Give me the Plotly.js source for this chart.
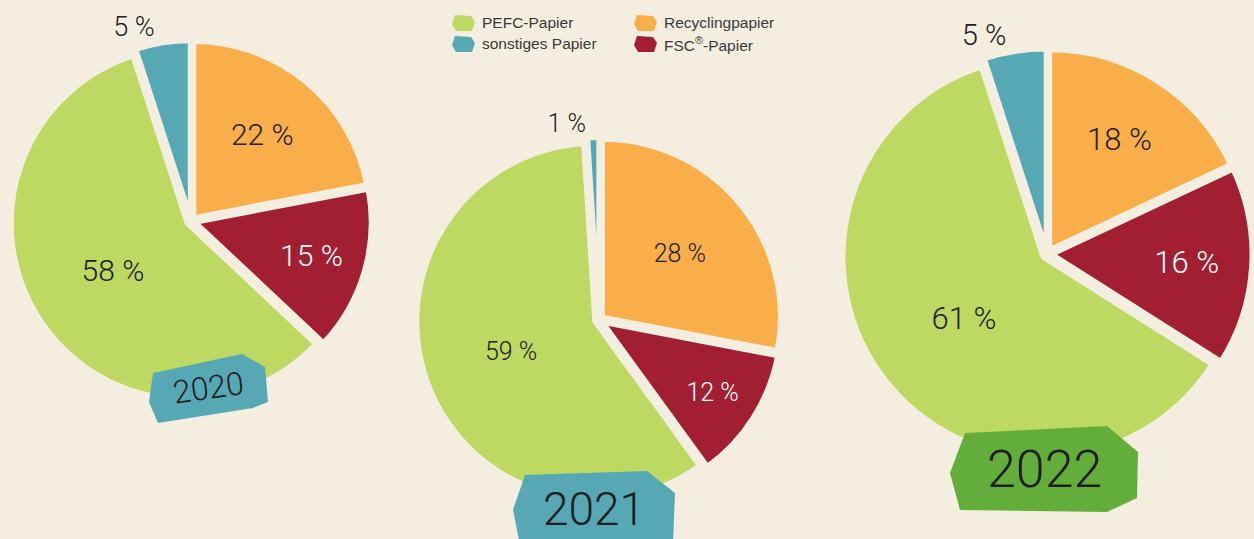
<!DOCTYPE html>
<html>
<head>
<meta charset="utf-8">
<script src="https://cdn.plot.ly/plotly-3.0.1.min.js"></script>
<style>
  html, body { margin: 0; padding: 0; background: #f4eee1; }
  #chart { width: 1254px; height: 539px; }
</style>
</head>
<body>
<div id="chart"></div>
<script>
// ---- data ----
const categories = ["Recyclingpapier", "FSC®-Papier", "PEFC-Papier", "sonstiges Papier"];
const years = ["2020", "2021", "2022"];
const values2020 = [22, 15, 58, 5];
const values2021 = [28, 12, 59, 1];
const values2022 = [18, 16, 61, 5];
const legendOrder = ["PEFC-Papier", "Recyclingpapier", "sonstiges Papier", "FSC®-Papier"];

// ---- styles ----
const W = 1254, H = 539;
const BG = "#f4eee1";
const colorOf = {
  "Recyclingpapier": "#f9ae4a",
  "FSC®-Papier": "#a11f31",
  "PEFC-Papier": "#bdd962",
  "sonstiges Papier": "#57a8b5"
};
const NUM_FONT = "Roboto, DejaVu Sans Condensed, sans-serif";
const NUM_WEIGHT = 300;
const PULL = 0.025;

function px(x) { return x / W; }
function py(y) { return 1 - y / H; }
function domainFor(cx, cy, r) {
  const half = r * (1 + PULL);
  return {
    x: [Math.max(0, (cx - half) / W), Math.min(1, (cx + half) / W)],
    y: [Math.max(0, (H - cy - half) / H), Math.min(1, (H - cy + half) / H)]
  };
}

const pieGeom = [
  {cx: 191, cy: 221, r: 176, size: 30, outSize: 27},
  {cx: 599, cy: 320, r: 178, size: 25, outSize: 25},
  {cx: 1047, cy: 254, r: 200, size: 31, outSize: 29}
];
const allValues = [values2020, values2021, values2022];

const traces = allValues.map((vals, i) => ({
  type: "pie",
  name: years[i],
  labels: categories,
  values: vals,
  sort: false,
  direction: "clockwise",
  rotation: 0,
  pull: vals.map(() => PULL),
  domain: domainFor(pieGeom[i].cx, pieGeom[i].cy, pieGeom[i].r),
  marker: {
    colors: categories.map(c => colorOf[c]),
    line: {color: BG, width: 5}
  },
  texttemplate: "%{value} %",
  textinfo: "text",
  textposition: ["inside", "inside", "inside", "outside"],
  insidetextorientation: "horizontal",
  textfont: {
    family: NUM_FONT, weight: NUM_WEIGHT,
    size: pieGeom[i].size,
    color: ["#222222", "#ffffff", "#222222", "#222222"]
  },
  outsidetextfont: {family: NUM_FONT, weight: NUM_WEIGHT, size: pieGeom[i].outSize, color: "#222222"},
  hoverinfo: "label+value",
  showlegend: false
}));

// ---- legend drawn as shapes + annotations ----
const shapes = [];
const annotations = [];
function hexPath(x0, yc, w, h) {
  const pts = [
    [x0 + 3, yc - h/2], [x0 + w - 4, yc - h/2 + 1], [x0 + w, yc - 1],
    [x0 + w - 3, yc + h/2], [x0 + 4, yc + h/2], [x0, yc + 1]
  ];
  return "M " + pts.map(p => px(p[0]) + "," + py(p[1])).join(" L ") + " Z";
}
const legendPos = [
  {x: 452, y: 23}, {x: 634, y: 23},
  {x: 452, y: 44}, {x: 634, y: 44}
];
legendOrder.forEach((name, k) => {
  const p = legendPos[k];
  shapes.push({
    type: "path", xref: "paper", yref: "paper", layer: "above",
    path: hexPath(p.x, p.y, 23, 16),
    fillcolor: colorOf[name], line: {width: 0}
  });
  annotations.push({
    xref: "paper", yref: "paper", x: px(p.x + 28), y: py(p.y),
    xanchor: "left", yanchor: "middle", showarrow: false,
    text: name.replace("®", "<sup>®</sup>"),
    font: {family: "Liberation Sans, Arial, sans-serif", size: 15.5, color: "#3a3a3a"}
  });
});

// ---- year badges ----
const badgePolys = [
  [[153,373],[242,354],[265,367],[268,402],[253,408],[158,423],[149,402]],
  [[525,475],[647,471],[675,493],[673,545],[520,545],[513,510]],
  [[965,433],[1107,426],[1138,452],[1137,498],[1107,512],[960,510],[950,473]]
];
const badgeColors = ["#57a8b5", "#57a8b5", "#63ad3b"];
const badgeText = [
  {x: 208, y: 388, size: 32, angle: -8},
  {x: 594, y: 509, size: 46, angle: 0},
  {x: 1044, y: 469, size: 52, angle: 0}
];
badgePolys.forEach((poly, i) => {
  shapes.push({
    type: "path", xref: "paper", yref: "paper", layer: "above",
    path: "M " + poly.map(p => px(p[0]) + "," + py(p[1])).join(" L ") + " Z",
    fillcolor: badgeColors[i], line: {width: 0}
  });
  annotations.push({
    xref: "paper", yref: "paper", x: px(badgeText[i].x), y: py(badgeText[i].y),
    xanchor: "center", yanchor: "middle", showarrow: false,
    text: years[i], textangle: badgeText[i].angle,
    font: {family: NUM_FONT, weight: NUM_WEIGHT, size: badgeText[i].size, color: "#1e1e1e"}
  });
});

const layout = {
  width: W, height: H,
  margin: {l: 0, r: 0, t: 0, b: 0},
  paper_bgcolor: BG,
  plot_bgcolor: BG,
  showlegend: false,
  shapes: shapes,
  annotations: annotations
};

Plotly.newPlot("chart", traces, layout, {displayModeBar: false, staticPlot: true});
</script>
</body>
</html>
